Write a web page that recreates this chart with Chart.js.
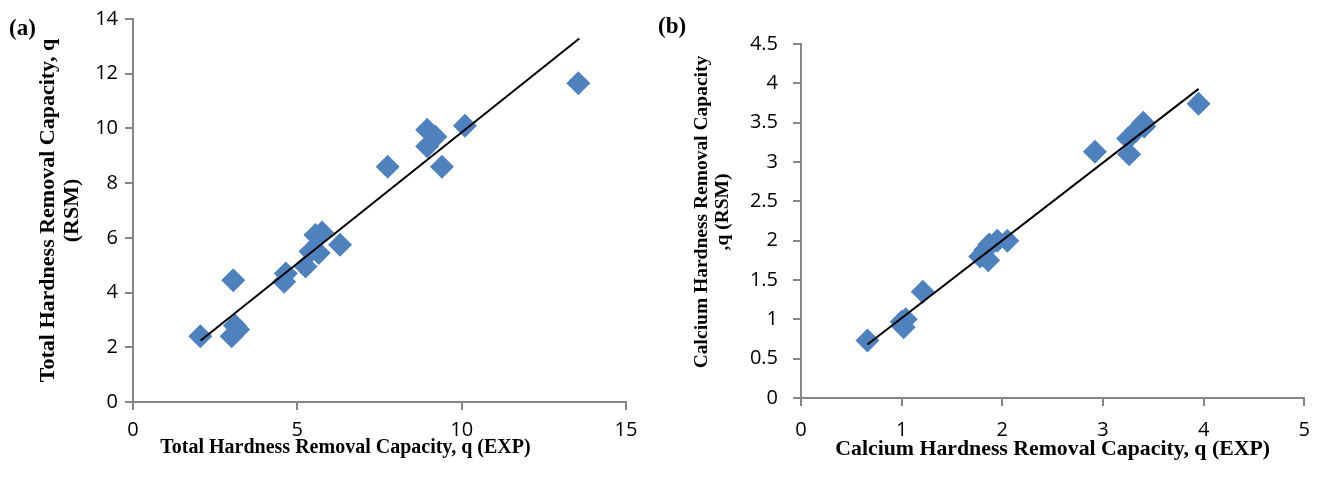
<!DOCTYPE html>
<html>
<head>
<meta charset="utf-8">
<script src="https://cdn.jsdelivr.net/npm/chart.js@4"></script>
<style>
  html, body { margin: 0; padding: 0; background: #fff; }
  #wrap { position: relative; width: 1322px; height: 478px; overflow: hidden; }
  canvas { position: absolute; top: 0; }
  .tag { position: absolute; font: bold 23px "Liberation Serif", serif; color: #000; }
</style>
</head>
<body>
<div id="wrap">
  <canvas id="ca" width="650" height="478" style="left:0"></canvas>
  <canvas id="cb" width="672" height="478" style="left:650px"></canvas>
  <div class="tag" style="left:9px; top:15px">(a)</div>
  <div class="tag" style="left:658px; top:13px">(b)</div>
</div>
<script>
// ---- data ----
const totalExp = [2.05, 3.05, 3.1, 3.2, 3.0, 4.65, 4.6, 5.25, 5.4, 5.55, 5.75, 5.65, 6.3, 7.75, 8.95, 9.2, 8.95, 9.4, 10.1, 13.55];
const totalRsm = [2.4, 4.45, 2.8, 2.65, 2.4, 4.7, 4.4, 4.95, 5.5, 6.1, 6.2, 5.45, 5.75, 8.6, 9.95, 9.7, 9.35, 8.6, 10.1, 11.65];
const totalFitX = [2.06, 13.58];
const totalFitY = [2.25, 13.29];

const calciumExp = [0.66, 1.0, 1.02, 1.04, 1.21, 1.78, 1.83, 1.86, 1.87, 1.95, 2.05, 2.92, 3.26, 3.25, 3.33, 3.4, 3.41, 3.95];
const calciumRsm = [0.73, 0.97, 0.9, 1.0, 1.35, 1.8, 1.88, 1.75, 1.95, 2.0, 2.0, 3.13, 3.1, 3.3, 3.4, 3.5, 3.45, 3.74];
const calciumFitX = [0.66, 3.95];
const calciumFitY = [0.68, 3.93];

const totalXTicks = [0, 5, 10, 15];
const totalYTicks = [0, 2, 4, 6, 8, 10, 12, 14];
const calciumXTicks = [0, 1, 2, 3, 4, 5];
const calciumYTicks = [0, 0.5, 1, 1.5, 2, 2.5, 3, 3.5, 4, 4.5];

const totalXTitle = 'Total Hardness Removal Capacity, q (EXP)';
const totalYTitle = ['Total Hardness Removal Capacity, q', '(RSM)'];
const calciumXTitle = 'Calcium Hardness Removal Capacity, q (EXP)';
const calciumYTitle = ['Calcium Hardness Removal Capacity', ',q (RSM)'];

// ---- helpers ----
const pts = (xs, ys) => xs.map((x, i) => ({ x: x, y: ys[i] }));
const AXIS = '#868686';
const MARK = '#4F81BD';
const tickFont = { family: 'Open Sans', size: 20 };

// shifts an axis title along its axis (Excel places titles freely)
const titleShift = {
  id: 'titleShift',
  afterLayout(chart, args, opts) {
    ['x', 'y'].forEach(k => {
      const s = chart.scales[k];
      const d = opts[k] || 0;
      if (!s || !d) return;
      if (!s._origDrawTitle) s._origDrawTitle = s.drawTitle;
      s.drawTitle = function () {
        const ctx = this.ctx;
        ctx.save();
        if (k === 'x') ctx.translate(d, 0); else ctx.translate(0, d);
        this._origDrawTitle();
        ctx.restore();
      };
    });
  }
};

function makeChart(id, cfg) {
  return new Chart(document.getElementById(id), {
    type: 'scatter',
    plugins: [titleShift],
    data: {
      datasets: [
        {
          type: 'line',
          data: pts(cfg.fitX, cfg.fitY),
          borderColor: '#000',
          borderWidth: 2,
          pointRadius: 0,
          fill: false,
          order: 0
        },
        {
          data: pts(cfg.xs, cfg.ys),
          pointStyle: 'rectRot',
          pointRadius: 12,
          pointBackgroundColor: MARK,
          pointBorderColor: MARK,
          pointBorderWidth: 0,
          order: 1
        }
      ]
    },
    options: {
      responsive: false,
      devicePixelRatio: 1,
      animation: false,
      layout: { padding: cfg.pad },
      plugins: {
        legend: { display: false },
        tooltip: { enabled: false },
        titleShift: cfg.shift
      },
      scales: {
        x: {
          type: 'linear',
          min: cfg.xTicks[0],
          max: cfg.xTicks[cfg.xTicks.length - 1],
          afterBuildTicks: s => { s.ticks = cfg.xTicks.map(v => ({ value: v })); },
          afterFit: s => { s.height = cfg.xH; },
          ticks: { font: tickFont, color: '#000', padding: cfg.xTickPad, maxRotation: 0, callback: v => String(v) },
          grid: { drawOnChartArea: false, drawTicks: true, tickLength: 8, color: AXIS, lineWidth: 2 },
          border: { display: true, color: AXIS, width: 2 },
          title: {
            display: true, text: cfg.xTitle, color: '#000',
            font: { family: 'Liberation Serif', size: cfg.xTitleSize, weight: 'bold', lineHeight: 1.2 },
            padding: { top: 0, bottom: cfg.xTitlePad }
          }
        },
        y: {
          type: 'linear',
          min: cfg.yTicks[0],
          max: cfg.yTicks[cfg.yTicks.length - 1],
          afterBuildTicks: s => { s.ticks = cfg.yTicks.map(v => ({ value: v })); },
          afterFit: s => { s.width = cfg.yW; },
          ticks: { font: tickFont, color: '#000', padding: cfg.yTickPad, callback: v => String(v) },
          grid: { drawOnChartArea: false, drawTicks: true, tickLength: 8, color: AXIS, lineWidth: 2 },
          border: { display: true, color: AXIS, width: 2 },
          title: {
            display: true, text: cfg.yTitle, color: '#000',
            font: { family: 'Liberation Serif', size: cfg.yTitleSize, weight: 'bold', lineHeight: cfg.yTitleLH },
            padding: { top: cfg.yTitlePad, bottom: 0 }
          }
        }
      }
    }
  });
}

makeChart('ca', {
  xs: totalExp, ys: totalRsm, fitX: totalFitX, fitY: totalFitY,
  xTicks: totalXTicks, yTicks: totalYTicks,
  xTitle: totalXTitle, yTitle: totalYTitle,
  pad: { top: 17, right: 24, left: 0, bottom: 0 },
  xH: 76, yW: 133,
  xTickPad: 8, yTickPad: 7,
  xTitleSize: 20, xTitlePad: 18,
  yTitleSize: 22, yTitleLH: 1.1, yTitlePad: 36,
  shift: { x: -34, y: 0 }
});

makeChart('cb', {
  xs: calciumExp, ys: calciumRsm, fitX: calciumFitX, fitY: calciumFitY,
  xTicks: calciumXTicks, yTicks: calciumYTicks,
  xTitle: calciumXTitle, yTitle: calciumYTitle,
  pad: { top: 44, right: 17, left: 0, bottom: 0 },
  xH: 80, yW: 151,
  xTickPad: 12, yTickPad: 15,
  xTitleSize: 21.8, xTitlePad: 16,
  yTitleSize: 19.5, yTitleLH: 1.08, yTitlePad: 41,
  shift: { x: 0, y: -9 }
});
</script>
</body>
</html>
